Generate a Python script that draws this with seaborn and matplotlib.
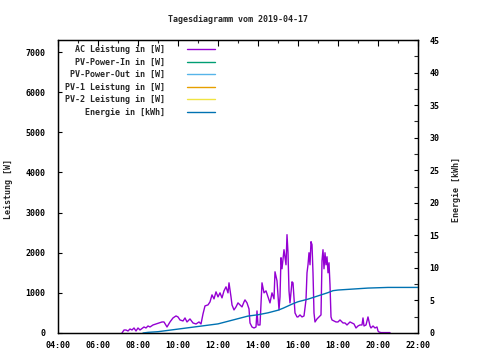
import matplotlib
matplotlib.use("Agg")
import matplotlib.pyplot as plt
import seaborn as sns
import pandas as pd
from matplotlib.ticker import MultipleLocator, FuncFormatter

# ---------------- data ----------------
title = "Tagesdiagramm vom 2019-04-17"
series_names = ["AC Leistung in [W]", "PV-Power-In in [W]", "PV-Power-Out in [W]",
                "PV-1 Leistung in [W]", "PV-2 Leistung in [W]", "Energie in [kWh]"]
series_colors = ["#9400D3", "#009E73", "#56B4E9", "#E69F00", "#F0E442", "#0072B2"]

ac_time = ["07:12", "07:18", "07:24", "07:30", "07:36", "07:42", "07:48", "07:54", "08:00", "08:06",
           "08:18", "08:24", "08:30", "08:36", "08:45", "08:54", "09:03", "09:12", "09:18", "09:27",
           "09:36", "09:45", "09:54", "10:00", "10:06", "10:15", "10:21", "10:27", "10:36", "10:45",
           "10:54", "11:03", "11:09", "11:15", "11:21", "11:30", "11:36", "11:42", "11:48", "11:54",
           "12:00", "12:06", "12:12", "12:18", "12:24", "12:30", "12:33", "12:39", "12:42", "12:48",
           "12:54", "13:00", "13:06", "13:12", "13:18", "13:21", "13:27", "13:33", "13:36", "13:42",
           "13:48", "13:54", "13:57", "14:00", "14:06", "14:09", "14:12", "14:18", "14:24", "14:30",
           "14:36", "14:42", "14:48", "14:51", "14:57", "15:03", "15:06", "15:09", "15:12", "15:18",
           "15:24", "15:27", "15:30", "15:33", "15:36", "15:42", "15:45", "15:51", "15:57", "16:00",
           "16:06", "16:12", "16:18", "16:24", "16:27", "16:30", "16:33", "16:36", "16:39", "16:42",
           "16:45", "16:48", "16:51", "16:57", "17:03", "17:09", "17:12", "17:15", "17:18", "17:21",
           "17:24", "17:27", "17:30", "17:33", "17:36", "17:39", "17:42", "17:48", "17:54", "18:00",
           "18:06", "18:15", "18:21", "18:27", "18:36", "18:42", "18:48", "18:54", "19:00", "19:06",
           "19:12", "19:15", "19:18", "19:24", "19:30", "19:36", "19:39", "19:45", "19:51", "19:57",
           "20:00", "20:03", "20:09", "20:21", "20:36"]
ac_power = [0, 75, 75, 50, 100, 75, 125, 50, 125, 75,
            150, 125, 175, 150, 200, 225, 250, 275, 275, 150,
            275, 375, 425, 400, 325, 300, 375, 275, 350, 250,
            225, 275, 225, 475, 675, 700, 775, 950, 850, 1025,
            900, 1000, 875, 1050, 1150, 1000, 1250, 900, 700, 575,
            650, 750, 700, 650, 775, 825, 750, 600, 250, 150,
            125, 150, 550, 200, 200, 700, 1250, 1000, 1050, 900,
            750, 1000, 850, 1525, 1300, 575, 900, 1875, 1600, 2075,
            1700, 2450, 2000, 1050, 750, 1275, 1250, 500, 400, 400,
            450, 400, 425, 825, 1500, 1700, 2000, 1700, 2275, 2200,
            1500, 500, 275, 350, 400, 450, 1800, 2075, 1600, 2000,
            1700, 1900, 1500, 1750, 1200, 400, 325, 300, 275, 275,
            325, 250, 250, 200, 275, 250, 225, 125, 175, 200,
            200, 375, 175, 200, 400, 175, 125, 175, 125, 150,
            50, 25, 10, 10, 10]

pv_in_time, pv_in_power = [], []
pv_out_time, pv_out_power = [], []
pv1_time, pv1_power = [], []
pv2_time, pv2_power = [], []

energy_time = ["08:15", "08:30", "09:00", "09:30", "10:00", "10:30", "11:00", "11:30", "12:00",
               "12:30", "13:00", "13:30", "14:00", "14:30", "15:00", "15:15", "15:45", "16:00",
               "16:30", "17:00", "17:30", "17:45", "18:00", "18:30", "19:00", "19:30", "20:00",
               "20:30", "22:00"]
energy_kwh = [0.0, 0.1, 0.2, 0.4, 0.6, 0.8, 1.0, 1.2, 1.4,
              1.8, 2.2, 2.6, 2.8, 3.1, 3.5, 3.8, 4.5, 4.8,
              5.2, 5.7, 6.2, 6.5, 6.6, 6.7, 6.8, 6.9, 6.95,
              7.0, 7.0]

x_ticks = ["04:00", "06:00", "08:00", "10:00", "12:00", "14:00", "16:00", "18:00", "20:00", "22:00"]


def to_hours(t):
    h, m = t.split(":")
    return int(h) + int(m) / 60.0


# ---------------- style ----------------
sns.set_style("white")
plt.rcParams["font.family"] = ["DejaVu Sans Mono"]
plt.rcParams["font.weight"] = "bold"
FS = 6.0

fig = plt.figure(figsize=(4.8, 3.6), dpi=100)
ax = fig.add_axes([58 / 480, 1 - 333 / 360, 360 / 480, 293 / 360])
ax2 = ax.twinx()

lw = 1.0
df_ac = pd.DataFrame({"t": [to_hours(t) for t in ac_time], "v": ac_power})
sns.lineplot(data=df_ac, x="t", y="v", ax=ax, color=series_colors[0], lw=lw, legend=False)

handles = []
h_ac, = ax.plot([], [], color=series_colors[0], lw=lw)
handles.append(h_ac)
for (tt, vv), col in zip([(pv_in_time, pv_in_power), (pv_out_time, pv_out_power),
                          (pv1_time, pv1_power), (pv2_time, pv2_power)], series_colors[1:5]):
    h, = ax.plot([to_hours(t) for t in tt], vv, color=col, lw=lw)
    handles.append(h)

df_e = pd.DataFrame({"t": [to_hours(t) for t in energy_time], "v": energy_kwh})
sns.lineplot(data=df_e, x="t", y="v", ax=ax2, color=series_colors[5], lw=lw, legend=False)
h_e, = ax.plot([], [], color=series_colors[5], lw=lw)
handles.append(h_e)

# axes ranges
ax.set_xlim(4, 22)
ax.set_ylim(0, 7300)
ax2.set_ylim(0, 45)

for a in (ax, ax2):
    for s in a.spines.values():
        s.set_color("black")
        s.set_linewidth(0.9)

ax.xaxis.set_major_locator(MultipleLocator(2))
ax.xaxis.set_minor_locator(MultipleLocator(1))
ax.xaxis.set_major_formatter(FuncFormatter(lambda v, p: "%02d:00" % int(round(v))))
ax.yaxis.set_major_locator(MultipleLocator(1000))
ax2.yaxis.set_major_locator(MultipleLocator(5))
ax2.yaxis.set_minor_locator(MultipleLocator(2.5))

ax.tick_params(axis="x", which="major", direction="in", length=4, width=0.8, top=True,
               labelsize=FS, pad=6, colors="black")
ax.tick_params(axis="x", which="minor", direction="in", length=2, width=0.8, top=True)
ax.tick_params(axis="y", which="major", direction="in", length=3, width=0.8, right=False,
               labelsize=FS, pad=9, colors="black")
ax2.tick_params(axis="y", which="major", direction="in", length=3, width=0.8,
                labelsize=FS, pad=8, colors="black")
ax2.tick_params(axis="y", which="minor", direction="in", length=3, width=0.8)

ax.set_xlabel("")
ax.set_ylabel("Leistung [W]", fontsize=FS, fontweight="bold")
ax2.set_ylabel("Energie [kWh]", fontsize=FS, fontweight="bold")
ax.yaxis.set_label_coords(-45 / 360, 0.49)
ax2.yaxis.set_label_coords(1 + 34 / 360, 0.49)

ax.set_title(title, fontsize=FS, pad=13, fontweight="bold")

width = max(len(n) for n in series_names)
labels = [n.rjust(width) for n in series_names]
leg = ax.legend(handles, labels, loc="upper left", bbox_to_anchor=(4 / 360, 1 - 2 / 293),
                frameon=False, fontsize=FS, markerfirst=False, handlelength=3.4,
                handletextpad=2.6, labelspacing=0.42, borderaxespad=0)
for t in leg.get_texts():
    t.set_fontweight("bold")

fig.savefig("out.png", dpi=100)
